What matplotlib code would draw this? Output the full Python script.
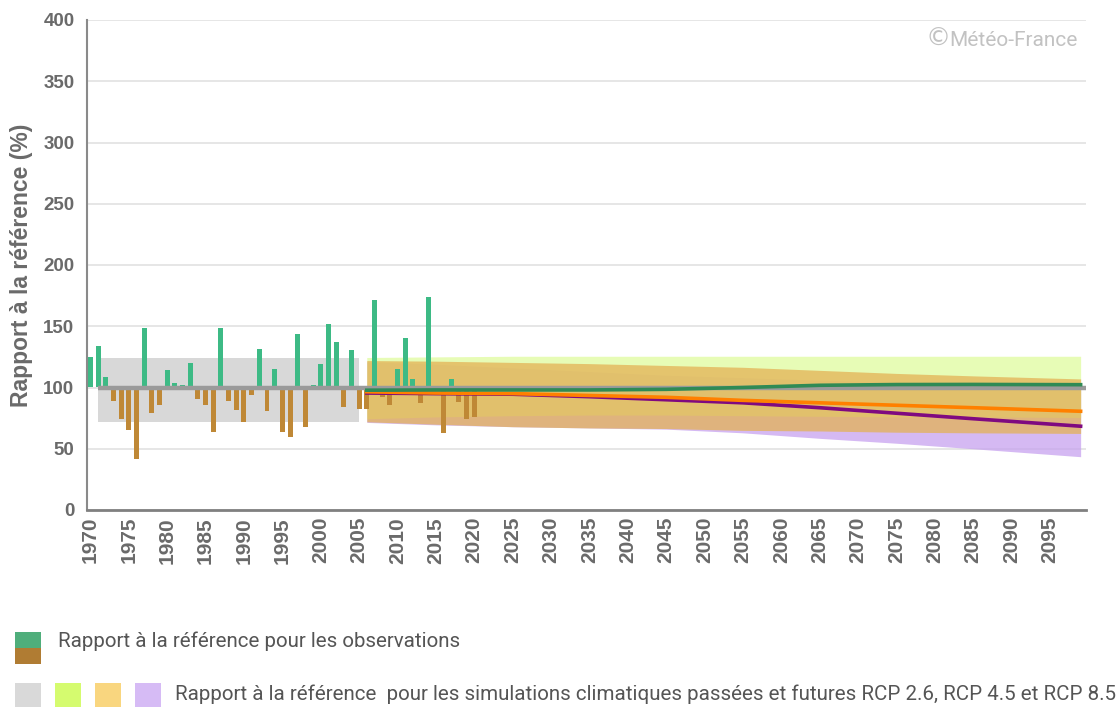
import matplotlib
matplotlib.use("Agg")
import matplotlib.pyplot as plt
from matplotlib import font_manager
from matplotlib.patches import Rectangle

# ---- observed yearly ratio to the reference (%) ----
obs_years = list(range(1970, 2021))
obs_ratio = [125, 134, 108.7, 88.8, 74, 65.7, 42, 148.7, 78.8, 85.5,
             113.9, 103.8, 102, 120.4, 90.5, 85.5, 63.8, 148.7, 88.8, 82,
             72, 93.7, 131.8, 80.6, 115.5, 63.8, 59.2, 144, 67.5, 102,
             118.8, 152, 137, 84, 130.6, 82.5, 82.5, 171.8, 92.6, 85.5,
             115.5, 140.6, 107, 87.6, 174, 100, 62.8, 107, 88, 74.5,
             76]

# ---- simulated past climate (envelope) ----
hist_years = [1971, 2005]
hist_low = [72, 72]
hist_high = [123.7, 123.7]

# ---- reference level ----
ref_years = [1971, 2100]
ref_level = [100, 100]

# ---- projections ----
proj_years = [2006, 2015, 2025, 2035, 2045, 2055, 2065, 2075, 2085, 2099]
rcp26_high = [124.5, 125, 125.5, 125.5, 125.5, 125.5, 125.5, 125.5, 125.5, 125.5]
rcp26_low = [74.5, 76, 77, 77.5, 77.5, 77, 76.5, 76, 76, 75.5]
rcp26_med = [97.8, 98, 98, 98, 98.5, 100, 101.8, 102.4, 102.5, 102.3]
rcp45_high = [122, 121.5, 120.5, 119.5, 118, 116.5, 114, 111.5, 109.5, 107]
rcp45_low = [72, 70, 68, 67, 66.5, 65, 64.5, 63.5, 63, 62.5]
rcp45_med = [96.5, 95.5, 95, 93.5, 92, 89.5, 87.5, 85.5, 83.5, 80.6]
rcp85_high = [121, 119, 116, 113, 110, 108, 106, 104, 102, 100]
rcp85_low = [71.5, 69.5, 68, 67, 66, 63, 58.5, 54.5, 50, 43.5]
rcp85_med = [95.5, 95, 94.5, 92.5, 90, 87.5, 83.5, 79, 74.5, 68.4]

y_ticks = [0, 50, 100, 150, 200, 250, 300, 350, 400]
x_ticks = list(range(1970, 2100, 5))

y_title = "Rapport à la référence (%)"
legend_obs = "Rapport à la référence pour les observations"
legend_sim = ("Rapport à la référence  pour les simulations climatiques "
              "passées et futures RCP 2.6, RCP 4.5 et RCP 8.5")
credit_mark = "©"
credit = "Météo-France"

# ---- fonts ----
available = {f.name for f in font_manager.fontManager.ttflist}
bold_font = "Liberation Sans" if "Liberation Sans" in available else "DejaVu Sans"
narrow_font = ("Liberation Sans Narrow" if "Liberation Sans Narrow" in available
               else "Roboto")

W, H = 1116, 708
fig = plt.figure(figsize=(W / 100, H / 100), dpi=100)
ax = fig.add_axes([87 / W, 1 - 510 / H, (1086 - 87) / W, (510 - 20) / H])

ALPHA = 0.75
# envelopes
ax.fill_between(hist_years, hist_low, hist_high, color="#d8d8d8", lw=0, zorder=1)
ax.fill_between(proj_years, rcp85_low, rcp85_high, color="#c7a2ef", alpha=ALPHA,
                lw=0, zorder=1.1)
ax.fill_between(proj_years, rcp26_low, rcp26_high, color="#e0fb9e", alpha=ALPHA,
                lw=0, zorder=1.2)
ax.fill_between(proj_years, rcp45_low, rcp45_high, color="#e3b255", alpha=ALPHA,
                lw=0, zorder=1.3)

# observation bars, drawn from the 100 % level
heights = [v - 100 for v in obs_ratio]
colors = ["#3dba85" if h >= 0 else "#bf8836" for h in heights]
ax.bar(obs_years, heights, bottom=100, width=0.65, color=colors, lw=0, zorder=2)

# reference and medians
ax.plot(ref_years, ref_level, color="#9a9a9a", lw=3.2, zorder=3,
        solid_capstyle="butt")
ax.plot(proj_years, rcp26_med, color="#2f8a55", lw=2.6, zorder=3.3)
ax.plot(proj_years, rcp45_med, color="#ff8000", lw=2.6, zorder=3.2)
ax.plot(proj_years, rcp85_med, color="#7f0a80", lw=2.6, zorder=3.1)

ax.set_xlim(1969.55, 2099.7)
ax.set_ylim(0, 400)
ax.set_yticks(y_ticks)
ax.set_xticks(x_ticks)
ax.set_xticklabels([str(t) for t in x_ticks], rotation=90, fontsize=15,
                   fontweight="bold", color="#6a6a6a", family=bold_font)
ax.set_yticklabels([str(t) for t in y_ticks], fontsize=13.5,
                   fontweight="bold", color="#6a6a6a", family=bold_font)
ax.tick_params(axis="both", length=0)
ax.tick_params(axis="y", pad=9)
ax.tick_params(axis="x", pad=5)
ax.grid(axis="y", color="#e2e2e2", lw=1.2, zorder=0)
ax.set_axisbelow(True)
for side in ("top", "right"):
    ax.spines[side].set_visible(False)
ax.spines["left"].set_color("#8a8a8a")
ax.spines["left"].set_linewidth(1.5)
ax.spines["bottom"].set_color("#808080")
ax.spines["bottom"].set_linewidth(2)

fig.text(22 / W, 1 - 265 / H, y_title, rotation=90, ha="center", va="center",
         fontsize=16.5, fontweight="bold", color="#6a6a6a", family=bold_font)

fig.text(1078 / W, 1 - 40 / H, credit, ha="right", va="center", fontsize=15,
         color="#c2c2c2", family=narrow_font)
fig.text(951 / W, 1 - 39 / H, credit_mark, ha="right", va="center", fontsize=18,
         color="#c2c2c2", family="DejaVu Sans")

# ---- legend ----
def box(x0, y0, w, h, color):
    fig.add_artist(Rectangle((x0 / W, 1 - (y0 + h) / H), w / W, h / H,
                             transform=fig.transFigure, color=color, lw=0))

box(15, 632, 26, 16, "#4fae7b")
box(15, 648, 26, 16, "#b07c33")
fig.text(58 / W, 1 - 647 / H, legend_obs, ha="left", va="baseline",
         fontsize=14.8, color="#555555", family=narrow_font)

for x0, c in zip([15, 55, 95, 135], ["#d9d9d9", "#d5fb6f", "#f9d67f", "#d6bbf5"]):
    box(x0, 683, 26, 24, c)
fig.text(175 / W, 1 - 700 / H, legend_sim, ha="left", va="baseline",
         fontsize=14.8, color="#555555", family=narrow_font)

fig.savefig("out.png", dpi=100)
